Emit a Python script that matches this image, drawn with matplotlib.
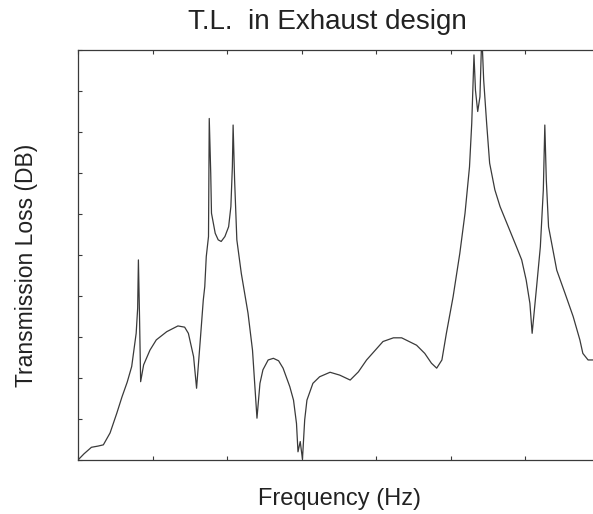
import matplotlib
matplotlib.use("Agg")
import matplotlib.pyplot as plt

# Data (arbitrary units; no tick labels in the original)
freq = [0.0, 0.08, 0.18, 0.27, 0.34, 0.43, 0.52, 0.59, 0.66, 0.72, 0.78, 0.80, 0.81, 0.825, 0.84,
        0.88, 0.965, 1.05, 1.19, 1.34, 1.43, 1.48, 1.55, 1.59,
        1.64, 1.68, 1.70, 1.72, 1.75, 1.76, 1.78, 1.79, 1.84, 1.88, 1.92, 1.97, 2.02, 2.05, 2.07,
        2.08, 2.10, 2.13, 2.19, 2.28, 2.34, 2.40,
        2.44, 2.48, 2.55, 2.62, 2.69, 2.75, 2.84, 2.89, 2.93, 2.95, 2.98, 3.01, 3.04,
        3.07, 3.15, 3.24, 3.38, 3.51, 3.65, 3.76, 3.87, 4.09, 4.23, 4.34, 4.54, 4.65, 4.74, 4.81,
        4.88, 4.94, 5.03, 5.12, 5.19, 5.25, 5.28, 5.31, 5.33, 5.36, 5.39, 5.415, 5.44, 5.48, 5.52,
        5.59, 5.66, 5.77, 5.88, 5.95, 6.01, 6.06, 6.09, 6.12, 6.15, 6.20, 6.24, 6.26, 6.28, 6.31,
        6.42, 6.53, 6.64, 6.73, 6.77, 6.84, 6.91]
tl = [0.0, 0.15, 0.31, 0.34, 0.37, 0.66, 1.14, 1.54, 1.9, 2.28, 3.09, 3.7, 4.88, 3.5, 1.91,
      2.32, 2.68, 2.93, 3.13, 3.27, 3.24, 3.09, 2.52, 1.75,
      2.93, 3.9, 4.23, 4.96, 5.45, 8.33, 6.99, 6.02, 5.53, 5.37, 5.33, 5.45, 5.69, 6.18, 7.15,
      8.17, 6.83, 5.37, 4.55, 3.58, 2.68, 1.02,
      1.87, 2.20, 2.44, 2.48, 2.42, 2.24, 1.79, 1.46, 0.89, 0.2, 0.45, 0.02, 0.98,
      1.46, 1.87, 2.03, 2.14, 2.07, 1.95, 2.15, 2.44, 2.89, 2.98, 2.98, 2.80, 2.60, 2.36, 2.24,
      2.44, 3.09, 3.98, 5.04, 6.02, 7.15, 8.21, 9.88, 9.02, 8.50, 8.86, 10.4, 9.27, 8.21, 7.24,
      6.59, 6.18, 5.69, 5.20, 4.88, 4.39, 3.82, 3.09, 3.66, 4.23, 5.20, 6.59, 8.17, 6.83, 5.69,
      4.63, 4.07, 3.50, 2.93, 2.60, 2.44, 2.44]

title = "T.L.  in Exhaust design"
xlabel = "Frequency (Hz)"
ylabel = "Transmission Loss (DB)"

W, H = 593, 514
fig = plt.figure(figsize=(W / 100, H / 100), dpi=100)
fig.patch.set_facecolor("white")
left, right, top, bottom = 78, 600, 50, 460
ax = fig.add_axes([left / W, (H - bottom) / H, (right - left) / W, (bottom - top) / H])
col = "#3a3a3a"
ax.plot(freq, tl, color=col, lw=0.9)
ax.set_xlim(0, 7)
ax.set_ylim(0, 10)
ax.set_xticks(range(0, 8))
ax.set_yticks(range(0, 11))
ax.set_xticklabels([])
ax.set_yticklabels([])
ax.tick_params(direction="in", length=3, width=0.8, color=col, top=True, right=True)
for s in ax.spines.values():
    s.set_color(col)
    s.set_linewidth(0.9)

font = "Liberation Sans"
fig.text(327 / W, 1 - 22 / H, title, ha="center", va="center", fontsize=20, family=font, color="#222222")
fig.text(339 / W, 1 - 499 / H, xlabel, ha="center", va="center", fontsize=17, family=font, color="#222222")
fig.text(27 / W, 1 - 265 / H, ylabel, ha="center", va="center", rotation=90, fontsize=16.5, family=font, color="#222222")

fig.savefig("out.png", dpi=100)
